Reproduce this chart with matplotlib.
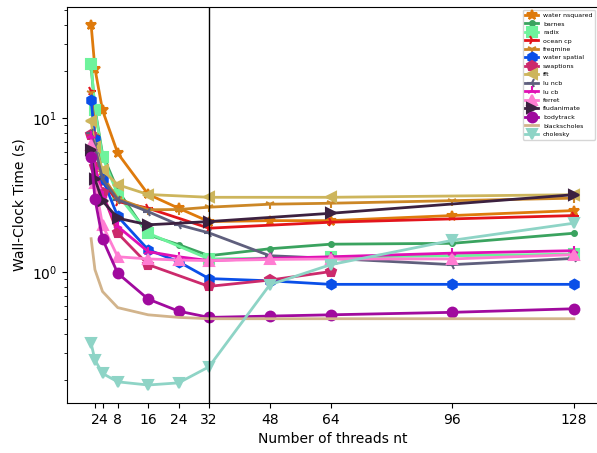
import matplotlib
matplotlib.use('Agg')
import matplotlib.pyplot as plt

threads = [1, 2, 4, 8, 16, 24, 32, 48, 64, 96, 128]
pow2 = [1, 2, 4, 8, 16, 32, 64, 128]

water_nsquared = [40.0, 20.9, 11.2, 5.9, 3.2, 2.6, 2.13, 2.16, 2.16, 2.33, 2.51]
barnes = [21.5, 11.5, 5.8, 3.4, 1.75, 1.51, 1.28, 1.42, 1.52, 1.54, 1.79]
radix = [22.2, 11.3, 5.6, 3.18, 1.79, 1.22, 1.25, 1.31]
ocean_cp = [14.9, 7.6, 3.86, 2.87, 2.6, 1.93, 2.11, 2.33]
freqmine = [14.5, 7.6, 4.2, 3.0, 2.54, 2.55, 2.64, 2.76, 2.80, 2.91, 3.02]
water_spatial = [13.1, 7.3, 4.04, 2.3, 1.40, 1.17, 0.91, 0.88, 0.835, 0.835, 0.835]
swaptions_t = [1, 2, 4, 8, 16, 32, 48, 64]
swaptions = [7.7, 4.8, 3.26, 1.79, 1.12, 0.81, 0.89, 1.01]
fft = [9.5, 6.5, 4.6, 3.69, 3.19, 3.06, 3.06, 3.18]
lu_ncb = [8.0, 6.5, 4.0, 2.95, 2.47, 2.03, 1.8, 1.28, 1.23, 1.12, 1.23]
lu_cb = [7.6, 4.8, 3.1, 1.98, 1.36, 1.26, 1.19, 1.23, 1.26, 1.33, 1.38]
ferret = [6.7, 3.8, 2.02, 1.26, 1.22, 1.2, 1.19, 1.21, 1.22, 1.22, 1.30]
fludanimate = [6.2, 4.0, 2.9, 2.24, 2.03, 2.13, 2.41, 3.18]
bodytrack = [5.6, 3.0, 1.64, 0.985, 0.67, 0.56, 0.51, 0.52, 0.53, 0.55, 0.58]
blackscholes = [1.65, 1.04, 0.75, 0.59, 0.53, 0.51, 0.50, 0.50, 0.50, 0.50, 0.50]
cholesky = [0.346, 0.27, 0.221, 0.195, 0.186, 0.192, 0.244, 0.83, 1.12, 1.61, 2.08]

# (label, x values, y values, marker, colour)
series = [
    ('water nsquared', threads, water_nsquared, '*', '#de7a0c'),
    ('barnes', threads, barnes, '.', '#3aa35f'),
    ('radix', pow2, radix, 's', '#6ef39c'),
    ('ocean cp', pow2, ocean_cp, '4', '#e3141c'),
    ('freqmine', threads, freqmine, '1', '#cc8726'),
    ('water spatial', threads, water_spatial, 'h', '#0a4fe8'),
    ('swaptions', swaptions_t, swaptions, 'p', '#cc2a6c'),
    ('fft', pow2, fft, '<', '#cdb55c'),
    ('lu ncb', threads, lu_ncb, '3', '#5f5f7d'),
    ('lu cb', threads, lu_cb, '2', '#e010b4'),
    ('ferret', threads, ferret, '^', '#ff7dd2'),
    ('fludanimate', pow2, fludanimate, '>', '#3c2140'),
    ('bodytrack', threads, bodytrack, 'o', '#a00a9e'),
    ('blackscholes', threads, blackscholes, '', '#d2b48c'),
    ('cholesky', threads, cholesky, 'v', '#8ed4c6'),
]

fig = plt.figure(figsize=(5.97, 4.53), dpi=100)
ax = fig.add_axes([67 / 597, 50 / 453, 531 / 597, 396 / 453])

for name, xs, ys, marker, color in series:
    ax.plot(xs, ys, marker=marker, color=color, label=name, lw=2, markersize=7,
            markeredgewidth=1.5)

ax.axvline(32, color='k', lw=1)
ax.set_yscale('log')
ax.set_xticks([2, 4, 8, 16, 24, 32, 48, 64, 96, 128])
ax.set_xticklabels(['2', '4', '8', '16', '24', '32', '48', '64', '96', '128'])
ax.set_xlabel('Number of threads nt')
ax.set_ylabel('Wall-Clock Time (s)')
ax.legend(loc='upper right', fontsize=4.5, markerscale=1.0)

fig.savefig('out.png', dpi=100)
